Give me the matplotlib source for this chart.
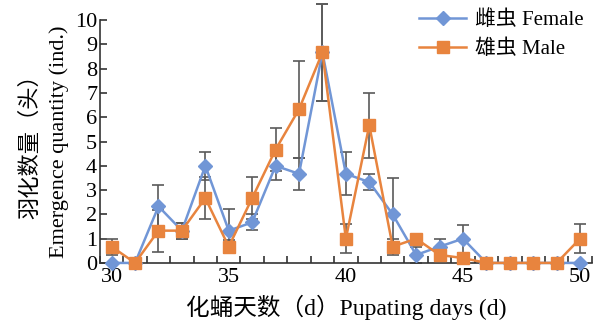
import numpy as np
import matplotlib
matplotlib.use("Agg")
import matplotlib.pyplot as plt
from matplotlib.ticker import FixedLocator

FONT = ["Liberation Serif", "Noto Sans CJK SC"]
plt.rcParams["font.family"] = FONT

days = list(range(30, 51))
female = [0, 0, 2.33, 1.33, 4.0, 1.33, 1.67, 4.0, 3.67, 8.67, 3.67,
          3.33, 2.0, 0.33, 0.67, 1.0, 0, 0, 0, 0, 0]
female_err = [0, 0, 0.9, 0.33, 0.58, 0.9, 0.33, 0.6, 0.67, 2.0, 0.88,
              0.33, 1.5, 0.33, 0.33, 0.58, 0, 0, 0, 0, 0]
male = [0.67, 0, 1.33, 1.33, 2.67, 0.67, 2.67, 4.67, 6.33, 8.67, 1.0,
        5.67, 0.67, 1.0, 0.33, 0.2, 0, 0, 0, 0, 1.0]
male_err = [0.33, 0, 0.87, 0.33, 0.88, 0.27, 0.88, 0.88, 2.0, 2.0, 0.6,
            1.33, 0.33, 0, 0, 0.2, 0, 0, 0, 0, 0.6]

blue = "#7196D6"
orange = "#E8843E"
grey = "#5a5a5a"

fig = plt.figure(figsize=(6.02, 3.25), dpi=100)
ax = fig.add_axes([0.166, 0.191, 0.817, 0.747])

ax.errorbar(days, female, yerr=female_err, fmt="none", ecolor=grey,
            elinewidth=1.2, capsize=4, capthick=1.2, clip_on=False, zorder=2)
ax.errorbar(days, male, yerr=male_err, fmt="none", ecolor=grey,
            elinewidth=1.2, capsize=4, capthick=1.2, clip_on=False, zorder=2)
ax.plot(days, female, color=blue, marker="D", markersize=7, lw=1.8,
        label="雌虫 Female", clip_on=False, zorder=3)
ax.plot(days, male, color=orange, marker="s", markersize=8, lw=1.8,
        label="雄虫 Male", clip_on=False, zorder=4)

ax.set_xlim(29.5, 50.5)
ax.set_ylim(0, 10)
ax.set_yticks(range(0, 11))
ax.set_xticks([30, 35, 40, 45, 50])
ax.xaxis.set_minor_locator(FixedLocator(np.arange(29.5, 51, 1)))
ax.tick_params(axis="x", which="major", length=0, labelsize=16, pad=4)
ax.tick_params(axis="x", which="minor", direction="in", length=5, width=1.2, color="#333333")
ax.tick_params(axis="y", direction="in", length=5, width=1.2, labelsize=16, pad=2, color="#333333")

for side in ("top", "right"):
    ax.spines[side].set_visible(False)
for side in ("left", "bottom"):
    ax.spines[side].set_linewidth(1.2)
    ax.spines[side].set_color("#333333")

ax.set_xlabel("化蛹天数（d）Pupating days (d)", fontsize=17, labelpad=5)
ax.set_ylabel("羽化数量（头）\nEmergence quantity (ind.)", fontsize=16,
              labelpad=4, linespacing=1.6)

ax.legend(loc="upper right", bbox_to_anchor=(1.0, 1.075), frameon=False,
          fontsize=15, handlelength=2.3, handletextpad=0.4, labelspacing=0.45,
          borderaxespad=0)

fig.savefig("out.png", dpi=100)
